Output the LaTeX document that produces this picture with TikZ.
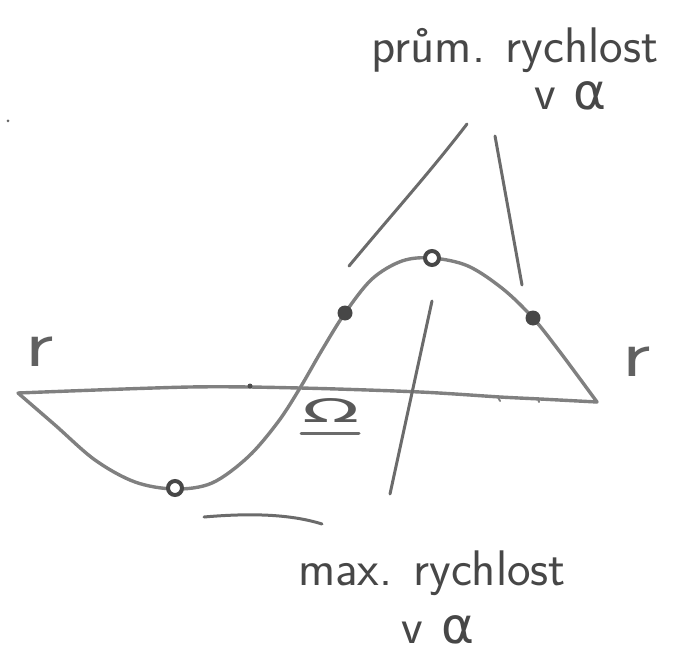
\documentclass[tikz,border=0pt]{standalone}
\usepackage{fontspec}
\newfontfamily\grk{DejaVu Sans}
\begin{document}
\begin{tikzpicture}[x=1pt,y=-1pt,
  pencil/.style={draw=black!50, line width=3.4pt, line cap=round, line join=round},
  thinpen/.style={draw=black!58, line width=3pt, line cap=round},
  lbl/.style={text=black!72, font=\sffamily\fontsize{50}{54}\selectfont, inner sep=0pt},
  glbl/.style={text=black!72, font=\grk\fontsize{50}{54}\selectfont, inner sep=0pt},
  rlbl/.style={text=black!62, font=\sffamily\fontsize{52}{52}\selectfont, inner sep=0pt, xscale=1.7, yscale=1.3},
  dotf/.style={circle, fill=black!72, minimum size=15pt, inner sep=0pt},
  dotr/.style={circle, draw=black!72, line width=4pt, fill=white, minimum size=14pt, inner sep=0pt}]
\useasboundingbox (0,0) rectangle (685,658);

% coordinates
\coordinate (tl1) at (349,266);
\coordinate (tl2) at (467,124);
\coordinate (tr1) at (495,136);
\coordinate (tr2) at (522,285);
\coordinate (mv1) at (432,301);
\coordinate (mv2) at (390,494);
\coordinate (bh1) at (204,517);
\coordinate (bh2) at (322,524);
\coordinate (ul1) at (301,433);
\coordinate (ul2) at (359,433);

% axis
\draw[pencil] plot[smooth, tension=0.5] coordinates {(18,393) (190,387) (300,388) (420,392) (500,397) (540,399) (597,402)};
\draw[pencil, line width=2pt] (498,397) -- (500,401);
\draw[pencil, line width=2pt] (538,398) -- (539,402);

% sine-like curve
\draw[pencil] plot[smooth, tension=0.55] coordinates {(18,393) (55,425) (95,460) (135,482) (175,489) (212,483) (248,457) (278,422) (300,388) (322,350) (345,313) (372,279) (402,261) (432,258) (468,266) (503,289) (533,318) (560,352) (597,402)};

% lines
\draw[thinpen] (tl1) .. controls (400,205) and (430,172) .. (tl2);
\draw[thinpen] (tr1) -- (tr2);
\draw[thinpen] (mv1) -- (mv2);
\draw[thinpen] (bh1) .. controls (250,513) and (290,514) .. (bh2);
\draw[thinpen] (ul1) -- (ul2);

% dots
\node[dotr] (p0) at (175,488) {};
\node[dotf] (p1) at (345,313) {};
\node[dotr] (p2) at (432,258) {};
\node[dotf] (p3) at (533,318) {};
\node[circle, fill=black!70, minimum size=5pt, inner sep=0pt] (ax0) at (250,386) {};
\node[circle, fill=black!60, minimum size=3pt, inner sep=0pt] (stray) at (8,121) {};

% labels
\node[lbl] (top1) at (515,50) {prům. rychlost};
\node[lbl, anchor=base] (top2v) at (545,110) {v};
\node[glbl, anchor=base] (top2a) at (590,110) {α};
\node[lbl] (bot1) at (432,573) {max. rychlost};
\node[lbl, anchor=base] (bot2v) at (412,643) {v};
\node[glbl, anchor=base] (bot2a) at (458,643) {α};
\node[rlbl] (rl) at (40,352) {r};
\node[rlbl] (rr) at (637,362) {r};
\node[glbl, text=black!65, xscale=1.5, yscale=0.65] (om) at (331,411) {Ω};
\end{tikzpicture}
\end{document}
